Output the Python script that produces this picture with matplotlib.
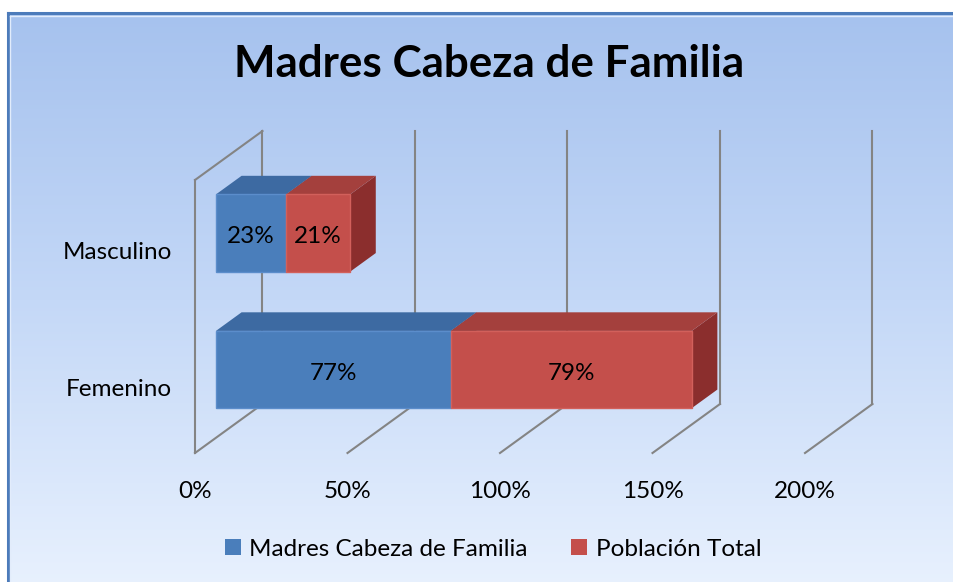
import matplotlib
matplotlib.use('Agg')
import matplotlib.pyplot as plt
import numpy as np
from matplotlib.patches import Polygon, Patch
from matplotlib.colors import LinearSegmentedColormap

# ---------------- data ----------------
categories = ['Femenino', 'Masculino']
series_names = ['Madres Cabeza de Familia', 'Población Total']
madres = [77, 23]
poblacion = [79, 21]
tick_values = [0, 50, 100, 150, 200]
tick_labels = ['0%', '50%', '100%', '150%', '200%']
title = 'Madres Cabeza de Familia'

# ---------------- style ----------------
plt.rcParams['font.family'] = ['Lato', 'DejaVu Sans']
W, H = 954, 582
fig = plt.figure(figsize=(W / 100, H / 100), dpi=100)

blue = dict(front='#4A7EBB', top='#3D6AA2', side='#30588A', edge='#5B8DCB')
red = dict(front='#C44F4B', top='#A4403D', side='#8B2E2D', edge='#D2605B')
grid_c = '#848484'

# ---------------- background ----------------
bg = fig.add_axes([0, 0, 1, 1])
bg.set_xlim(0, W)
bg.set_ylim(H, 0)
bg.axis('off')
grad = np.linspace(0, 1, 256)[:, None]
cmap = LinearSegmentedColormap.from_list('g', ['#A6C2EE', '#C4D8F7', '#E8F1FE'])
bg.imshow(grad, extent=(8, W + 5, H + 5, 13), cmap=cmap, aspect='auto',
          zorder=0, interpolation='bilinear')
bg.plot([8, 8], [H + 5, 13], color='#4C7BBA', lw=2.2, zorder=2, solid_capstyle='projecting')
bg.plot([8, W + 5], [13, 13], color='#4C7BBA', lw=2.2, zorder=2, solid_capstyle='projecting')
bg.plot([10.5, 10.5], [H + 5, 15.5], color='#E2ECFB', lw=1, zorder=2)
bg.plot([10.5, W + 5], [15.5, 15.5], color='#E2ECFB', lw=1, zorder=2)

# ---------------- main (oblique 3D) axes ----------------
ax = fig.add_axes([0, 0, 1, 1])
ax.set_facecolor('none')
ax.axis('off')
PX_PER_PCT = 3.05
PX_PER_CAT = 136.5
X0, Y0 = 195, 453
ax.set_xlim(-X0 / PX_PER_PCT, (W - X0) / PX_PER_PCT)
ax.set_ylim(-(H - Y0) / PX_PER_CAT, Y0 / PX_PER_CAT)

DX = 67.5 / PX_PER_PCT   # depth shift in % units
DY = 49.0 / PX_PER_CAT   # depth shift in category units
ncat = len(categories)
TXT_DY = -3.5 / PX_PER_CAT  # small downward text nudge

# font calibration
fig.canvas.draw()
r = fig.canvas.get_renderer()
probe = fig.text(0, 0, series_names[0], fontsize=16)
body = 16 * 280 / probe.get_window_extent(r).width
probe.remove()
probe = fig.text(0, 0, title, fontsize=30, weight='bold')
tsize = 30 * 510 / probe.get_window_extent(r).width
probe.remove()

# gridlines / walls
for t in tick_values:
    ax.plot([t + DX, t + DX], [DY, ncat + DY], color=grid_c, lw=1.5, zorder=1)
    ax.plot([t, t + DX], [0, DY], color=grid_c, lw=1.5, zorder=1)
ax.plot([0, 0], [0, ncat], color=grid_c, lw=1.5, zorder=1)
ax.plot([0, DX], [ncat, ncat + DY], color=grid_c, lw=1.5, zorder=1)

# bars
f0, f1 = 0.31, 0.69
h = 0.566
for i, cat in enumerate(categories):
    yc = i + 0.5
    yb, yt = yc - h / 2, yc + h / 2
    left = 0
    segs = [(madres[i], blue), (poblacion[i], red)]
    for j, (v, c) in enumerate(segs):
        a, b = left, left + v
        top = [(a + DX * f0, yt + DY * f0), (b + DX * f0, yt + DY * f0),
               (b + DX * f1, yt + DY * f1), (a + DX * f1, yt + DY * f1)]
        front = [(a + DX * f0, yb + DY * f0), (b + DX * f0, yb + DY * f0),
                 (b + DX * f0, yt + DY * f0), (a + DX * f0, yt + DY * f0)]
        side = [(b + DX * f0, yb + DY * f0), (b + DX * f1, yb + DY * f1),
                (b + DX * f1, yt + DY * f1), (b + DX * f0, yt + DY * f0)]
        ax.add_patch(Polygon(side, closed=True, facecolor=c['side'], edgecolor='none', zorder=3 + j))
        ax.add_patch(Polygon(top, closed=True, facecolor=c['top'], edgecolor='none', zorder=3 + j))
        ax.add_patch(Polygon(front, closed=True, facecolor=c['front'], edgecolor=c['edge'],
                             lw=1.0, zorder=3 + j))
        ax.text((a + b) / 2 + DX * f0, yc + DY * f0 + TXT_DY, f'{v}%', ha='center', va='center',
                fontsize=body, color='black', zorder=10)
        left = b
    ax.text(-7.5, yc + TXT_DY - 1 / PX_PER_CAT, cat, ha='right', va='center', fontsize=body,
            color='black', zorder=10)

# x tick labels (front plane)
for t, lbl in zip(tick_values, tick_labels):
    ax.text(t, -38 / PX_PER_CAT, lbl, ha='center', va='center', fontsize=body,
            color='black', zorder=10)

# title
fig.text(489 / W, 1 - 64 / H, title, fontsize=tsize, weight='bold', ha='center',
         va='center', color='black')

# legend
handles = [Patch(facecolor=blue['front'], edgecolor='none'),
           Patch(facecolor=red['front'], edgecolor='none')]
fig.legend(handles=handles, labels=series_names, loc='center',
           bbox_to_anchor=(493 / W, 1 - 549 / H), ncol=2, frameon=False,
           fontsize=body, handlelength=0.65, handleheight=0.65, handletextpad=0.35,
           columnspacing=1.8, borderaxespad=0)

fig.savefig('out.png', dpi=100)
